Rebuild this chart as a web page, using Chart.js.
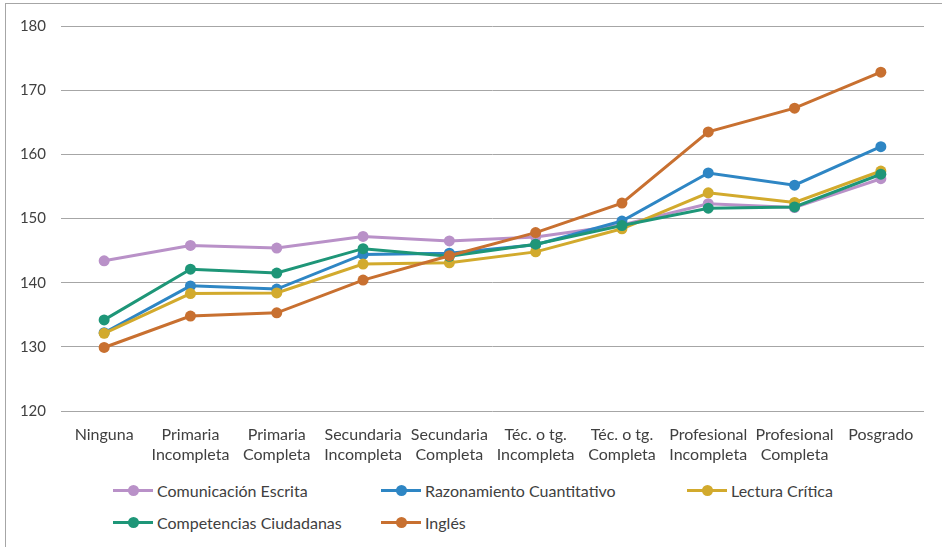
<!DOCTYPE html>
<html lang="es">
<head>
  <meta charset="UTF-8" />
  <title>Puntaje por nivel educativo</title>
  <script src="https://cdn.jsdelivr.net/npm/chart.js"></script>
  <style>
    body {
      margin: 0;
      background: white;
      font-family: Lato, "Open Sans", sans-serif;
      color: #404040;
    }
    .frame {
      position: absolute;
      left: 5px;
      top: 3px;
      width: 960px;
      height: 560px;
      border: 1px solid #a6a6a6;
      box-sizing: border-box;
    }
    .plot {
      position: absolute;
      left: 0;
      top: 0;
      width: 942px;
      height: 470px;
    }
    .legend {
      position: absolute;
      left: 0;
      top: 480px;
      font-size: 16px;
    }
    .item {
      position: absolute;
      display: flex;
      align-items: center;
      white-space: nowrap;
    }
    .mark {
      position: relative;
      width: 40px;
      height: 3px;
      margin-right: 4px;
    }
    .mark span {
      position: absolute;
      left: 15px;
      top: -4px;
      width: 11px;
      height: 11px;
      border-radius: 50%;
    }
  </style>
</head>
<body>
  <div class="frame"></div>
  <div class="plot"><canvas id="chart"></canvas></div>
  <div class="legend" id="legend"></div>

  <script>
    const categories = [
      'Ninguna',
      ['Primaria', 'Incompleta'],
      ['Primaria', 'Completa'],
      ['Secundaria', 'Incompleta'],
      ['Secundaria', 'Completa'],
      ['Téc. o tg.', 'Incompleta'],
      ['Téc. o tg.', 'Completa'],
      ['Profesional', 'Incompleta'],
      ['Profesional', 'Completa'],
      'Posgrado'
    ];

    const comunicacion = [143.4, 145.8, 145.4, 147.2, 146.5, 147.1, 149.0, 152.3, 151.7, 156.2];
    const razonamiento = [132.2, 139.5, 139.0, 144.4, 144.6, 145.9, 149.6, 157.1, 155.2, 161.2];
    const lectura = [132.1, 138.3, 138.4, 142.9, 143.1, 144.8, 148.4, 154.0, 152.5, 157.4];
    const ciudadanas = [134.2, 142.1, 141.5, 145.3, 144.1, 146.0, 148.9, 151.6, 151.8, 156.9];
    const ingles = [129.9, 134.8, 135.3, 140.4, 144.2, 147.8, 152.4, 163.5, 167.2, 172.8];

    const yMin = 120, yMax = 180, yStep = 10;

    const series = [
      { label: 'Comunicación Escrita', data: comunicacion, color: '#b991c8' },
      { label: 'Razonamiento Cuantitativo', data: razonamiento, color: '#2e86c4' },
      { label: 'Lectura Crítica', data: lectura, color: '#d2aa2d' },
      { label: 'Competencias Ciudadanas', data: ciudadanas, color: '#1e9678' },
      { label: 'Inglés', data: ingles, color: '#c87030' }
    ];

    // legend grid like the original (3 columns, 2 rows)
    const legendPos = [[113, 11], [381, 11], [687, 11], [113, 43], [381, 43]];

    function buildLegend() {
      const box = document.getElementById('legend');
      series.forEach((s, i) => {
        const el = document.createElement('div');
        el.className = 'item';
        el.style.left = legendPos[i][0] + 'px';
        el.style.top = (legendPos[i][1] - 10) + 'px';
        el.innerHTML = '<div class="mark" style="background:' + s.color + '"><span style="background:' + s.color + '"></span></div>' + s.label;
        box.appendChild(el);
      });
    }

    function renderChart() {
      const ctx = document.getElementById('chart').getContext('2d');
      new Chart(ctx, {
        type: 'line',
        data: {
          labels: categories,
          datasets: series.map((s, i) => ({
            label: s.label,
            data: s.data,
            borderColor: s.color,
            backgroundColor: s.color,
            borderWidth: 3,
            pointRadius: 5.5,
            pointHoverRadius: 5.5,
            pointBorderWidth: 0,
            tension: 0,
            order: series.length - i
          }))
        },
        options: {
          responsive: true,
          maintainAspectRatio: false,
          animation: false,
          layout: { padding: { top: 26, right: 18, bottom: 0, left: 0 } },
          plugins: {
            legend: { display: false },
            tooltip: { enabled: false }
          },
          scales: {
            x: {
              offset: true,
              grid: { display: false, offset: true },
              border: { display: false },
              ticks: {
                color: '#404040',
                font: { family: 'Lato', size: 16, lineHeight: 1.25 },
                padding: 6,
                maxRotation: 0,
                autoSkip: false
              },
              afterFit: s => { s.height = 59; }
            },
            y: {
              min: yMin,
              max: yMax,
              grid: { color: '#a6a6a6', lineWidth: 1, drawTicks: false },
              border: { display: false },
              ticks: {
                stepSize: yStep,
                color: '#404040',
                font: { family: 'Lato', size: 15 },
                padding: 15
              },
              afterFit: s => { s.width = 61; }
            }
          }
        }
      });
    }

    buildLegend();
    renderChart();
  </script>
</body>
</html>
